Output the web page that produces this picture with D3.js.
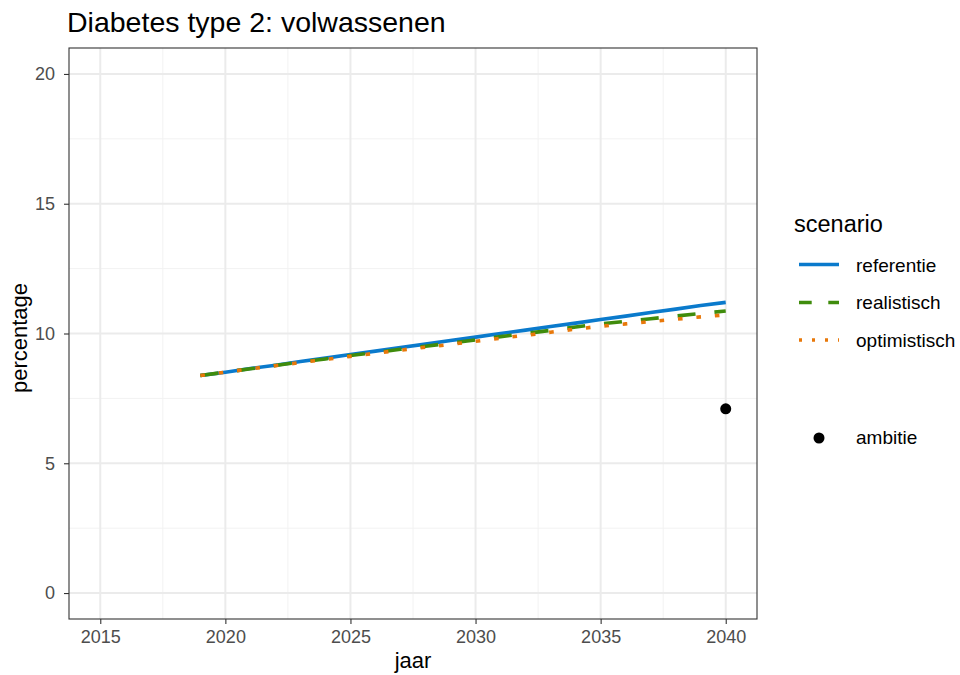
<!DOCTYPE html>
<html><head><meta charset="utf-8">
<script src="https://cdn.jsdelivr.net/npm/d3@7"></script>
<style>body{margin:0;background:#fff}svg{font-family:"Liberation Sans",Arial,sans-serif}</style>
</head><body><svg id="c" width="960" height="675"></svg>
<script>
const years = d3.range(2019, 2041);
const referentie  = [8.38,8.51,8.65,8.78,8.92,9.05,9.19,9.32,9.46,9.59,9.73,9.86,10.00,10.13,10.27,10.40,10.54,10.67,10.81,10.94,11.08,11.20];
const realistisch = [8.38,8.51,8.64,8.77,8.90,9.02,9.15,9.27,9.39,9.51,9.63,9.75,9.88,10.00,10.12,10.25,10.37,10.47,10.57,10.67,10.77,10.87];
const optimistisch= [8.38,8.51,8.64,8.76,8.88,9.00,9.12,9.24,9.36,9.47,9.58,9.70,9.82,9.93,10.05,10.17,10.28,10.37,10.46,10.55,10.64,10.72];
const ambitie = [{jaar:2040, value:7.1}];
const xTicks = [2015,2020,2025,2030,2035,2040];
const yTicks = [0,5,10,15,20];
const seriesNames = ["referentie","realistisch","optimistisch"];
const seriesColors = ["#0A7ACC","#3F8C0C","#E8780A"];
const seriesDash = [null,"18,19","4.6,13.9"];
const legendDash = [null,"12.7,16.6","3,10"];

const svg = d3.select("#c");
const L=69, R=757, T=48, B=619;
const x = d3.scaleLinear().domain([2013.75,2041.25]).range([L,R]);
const y = d3.scaleLinear().domain([-1,21]).range([B,T]);

// grid
const xMinor = [2017.5,2022.5,2027.5,2032.5,2037.5];
const yMinor = [2.5,7.5,12.5,17.5];
const g = svg.append("g");
g.selectAll(".xm").data(xMinor).join("line").attr("x1",d=>x(d)).attr("x2",d=>x(d)).attr("y1",T).attr("y2",B).attr("stroke","#F2F2F2").attr("stroke-width",1);
g.selectAll(".ym").data(yMinor).join("line").attr("y1",d=>y(d)).attr("y2",d=>y(d)).attr("x1",L).attr("x2",R).attr("stroke","#F2F2F2").attr("stroke-width",1);
g.selectAll(".xM").data(xTicks).join("line").attr("x1",d=>x(d)).attr("x2",d=>x(d)).attr("y1",T).attr("y2",B).attr("stroke","#EBEBEB").attr("stroke-width",2);
g.selectAll(".yM").data(yTicks).join("line").attr("y1",d=>y(d)).attr("y2",d=>y(d)).attr("x1",L).attr("x2",R).attr("stroke","#EBEBEB").attr("stroke-width",2);

// lines
const allSeries = [referentie, realistisch, optimistisch];
const lineGen = d3.line().x((d,i)=>x(years[i])).y(d=>y(d));
allSeries.forEach((s,k)=>{
  svg.append("path").datum(s).attr("d",lineGen).attr("fill","none")
    .attr("stroke",seriesColors[k]).attr("stroke-width",3.6)
    .attr("stroke-dasharray",seriesDash[k]).attr("stroke-linecap","butt");
});
svg.selectAll(".amb").data(ambitie).join("circle").attr("cx",d=>x(d.jaar)).attr("cy",d=>y(d.value)).attr("r",5.5).attr("fill","#000");

// border
svg.append("rect").attr("x",L).attr("y",T).attr("width",R-L).attr("height",B-T).attr("fill","none").attr("stroke","#333").attr("stroke-width",1.1);

// axes
const xa = svg.append("g").attr("transform",`translate(0,${B})`).call(d3.axisBottom(x).tickValues(xTicks).tickFormat(d3.format("d")).tickSize(5).tickPadding(6));
const ya = svg.append("g").attr("transform",`translate(${L},0)`).call(d3.axisLeft(y).tickValues(yTicks).tickSize(5).tickPadding(9));
[xa,ya].forEach(a=>{a.select(".domain").remove();a.selectAll(".tick line").attr("stroke","#333").attr("stroke-width",1.1);a.selectAll("text").attr("fill","#4D4D4D").style("font-size","18px").style("font-family","'Liberation Sans',Arial,sans-serif");});

// titles
svg.append("text").attr("x",67).attr("y",32).text("Diabetes type 2: volwassenen").style("font-size","28.5px").attr("fill","#000");
svg.append("text").attr("x",(L+R)/2).attr("y",668).attr("text-anchor","middle").text("jaar").style("font-size","22px");
svg.append("text").attr("transform",`translate(27,${338}) rotate(-90)`).attr("text-anchor","middle").text("percentage").style("font-size","22px");

// legend
svg.append("text").attr("x",794).attr("y",232).text("scenario").style("font-size","23.5px");
const keyY = [264.5,302.5,340];
const labY = [272,309,347];
seriesNames.forEach((n,k)=>{
  svg.append("line").attr("x1",799).attr("x2",839).attr("y1",keyY[k]).attr("y2",keyY[k])
    .attr("stroke",seriesColors[k]).attr("stroke-width",3.6).attr("stroke-dasharray",legendDash[k]);
  svg.append("text").attr("x",856).attr("y",labY[k]).text(n).style("font-size","19px");
});
svg.append("circle").attr("cx",819).attr("cy",438).attr("r",5.5).attr("fill","#000");
svg.append("text").attr("x",856).attr("y",444).text("ambitie").style("font-size","19px");
</script></body></html>
